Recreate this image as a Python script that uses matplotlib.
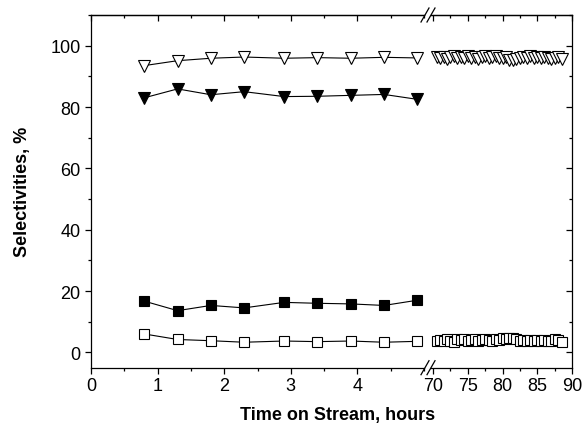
import matplotlib
matplotlib.use("Agg")
import matplotlib.pyplot as plt
from matplotlib.lines import Line2D
from matplotlib.ticker import MultipleLocator

plt.rcParams['font.family'] = ['Liberation Sans', 'DejaVu Sans']

# ---- data: early period (hours) ----
tos_early = [0.8, 1.3, 1.8, 2.3, 2.9, 3.4, 3.9, 4.4, 4.9]
open_tri_early = [93.5, 95.1, 95.9, 96.3, 95.9, 96.1, 95.9, 96.2, 96.0]
filled_tri_early = [83.0, 85.9, 84.0, 85.0, 83.4, 83.5, 83.8, 84.1, 82.5]
filled_sq_early = [16.7, 13.6, 15.3, 14.5, 16.3, 16.0, 15.8, 15.3, 17.0]
open_sq_early = [6.0, 4.2, 3.8, 3.3, 3.7, 3.5, 3.7, 3.3, 3.6]

# ---- data: late period (hours) ----
tos_late = [70.5, 71.0, 71.5, 72.0, 72.5, 73.0, 73.5, 74.0, 74.5, 75.0,
            75.5, 76.0, 76.5, 77.0, 77.5, 78.0, 78.5, 79.0, 79.5, 80.0,
            80.5, 81.0, 81.5, 82.0, 82.5, 83.0, 83.5, 84.0, 84.5, 85.0,
            85.5, 86.0, 86.5, 87.0, 87.5, 88.0, 88.5]
open_tri_late = [96.3, 96.0, 96.4, 95.8, 96.2, 96.5, 96.0, 96.3, 95.9, 96.6,
                 96.1, 96.4, 95.8, 96.2, 96.6, 96.0, 96.3, 96.5, 96.1, 95.9,
                 96.2, 95.4, 95.3, 95.6, 96.0, 96.4, 96.1, 96.5, 96.0, 96.3,
                 95.9, 96.2, 96.0, 95.8, 96.1, 96.3, 95.7]
open_sq_late = [3.6, 4.0, 3.7, 4.3, 3.8, 3.5, 4.2, 3.9, 4.4, 3.6,
                4.0, 4.3, 3.7, 4.1, 4.5, 3.9, 3.6, 4.2, 4.0, 4.6,
                4.3, 4.8, 4.7, 4.2, 3.8, 4.1, 3.7, 4.0, 3.6, 3.9,
                3.7, 4.0, 3.6, 3.8, 4.2, 4.0, 3.3]

x_major_early = [0, 1, 2, 3, 4]
x_major_late = [70, 75, 80, 85, 90]
y_major = [0, 20, 40, 60, 80, 100]

W, H = 583, 435
fig = plt.figure(figsize=(W / 100, H / 100), dpi=100)

def fx(px):
    return px / W

def fy(py):
    return 1 - py / H

ax_bottom, ax_top = 368.7, 16
axL = fig.add_axes([fx(91), fy(ax_bottom), fx(424) - fx(91), fy(ax_top) - fy(ax_bottom)])
axR = fig.add_axes([fx(431), fy(ax_bottom), fx(572) - fx(431), fy(ax_top) - fy(ax_bottom)], sharey=axL)

lw = 0.8
mew = 0.8
tri_ms = 8.6
sq_ms = 7.6

def draw(ax, x, y, marker, filled, ms, z):
    ax.plot(x, y, color='black', lw=lw, marker=marker, ms=ms,
            mfc='black' if filled else 'white', mec='black', mew=mew, zorder=z,
            clip_on=False)

draw(axL, tos_early, open_tri_early, 'v', False, tri_ms, 3)
draw(axL, tos_early, filled_tri_early, 'v', True, tri_ms, 3)
draw(axL, tos_early, filled_sq_early, 's', True, sq_ms, 3)
draw(axL, tos_early, open_sq_early, 's', False, sq_ms, 3)
draw(axR, tos_late, open_tri_late, 'v', False, tri_ms, 3)
draw(axR, tos_late, open_sq_late, 's', False, sq_ms, 3)

axL.set_xlim(0, 5.0)
axR.set_xlim(69.7, 90)
axL.set_ylim(-5, 110)

for ax in (axL, axR):
    for s in ax.spines.values():
        s.set_linewidth(0.9)
axL.spines['right'].set_visible(False)
axR.spines['left'].set_visible(False)

fs = 13
axL.set_xticks(x_major_early)
axL.xaxis.set_minor_locator(MultipleLocator(0.5))
axR.set_xticks(x_major_late)
axR.xaxis.set_minor_locator(MultipleLocator(2.5))
axL.set_yticks(y_major)
axL.yaxis.set_minor_locator(MultipleLocator(10))

for ax in (axL, axR):
    ax.tick_params(axis='x', which='both', bottom=True, top=False, direction='out',
                   labelsize=fs, width=0.9, pad=2)
    ax.tick_params(axis='x', which='major', length=4.5)
    ax.tick_params(axis='x', which='minor', length=2.5)
    # top inward ticks
    sec = ax.secondary_xaxis('top')
    sec.set_xticks(ax.get_xticks())
    sec.xaxis.set_minor_locator(MultipleLocator(0.5 if ax is axL else 2.5))
    sec.tick_params(axis='x', which='both', direction='in', labeltop=False, width=0.9)
    sec.tick_params(axis='x', which='major', length=4.5)
    sec.tick_params(axis='x', which='minor', length=2.5)
    sec.spines['top'].set_linewidth(0.9)

axL.tick_params(axis='y', which='both', left=True, right=False, direction='out',
                labelsize=fs, width=0.9, pad=3)
axL.tick_params(axis='y', which='major', length=4.5)
axL.tick_params(axis='y', which='minor', length=2.5)
axR.tick_params(axis='y', which='both', left=False, right=True, labelleft=False,
                labelright=False, direction='in', width=0.9)
axR.tick_params(axis='y', which='major', length=4.5)
axR.tick_params(axis='y', which='minor', length=2.5)

axL.set_ylabel('Selectivities, %', fontsize=13, fontweight='bold', labelpad=14)
fig.text(fx(338), fy(416), 'Time on Stream, hours', fontsize=13, fontweight='bold',
         ha='center', va='center')

# break marks
for yc in (ax_top, ax_bottom):
    for dx in (0, 6):
        fig.add_artist(Line2D([fx(421 + dx), fx(429 + dx)], [fy(yc + 7), fy(yc - 7)],
                              color='black', lw=0.9, transform=fig.transFigure))

fig.savefig('out.png', dpi=100)
